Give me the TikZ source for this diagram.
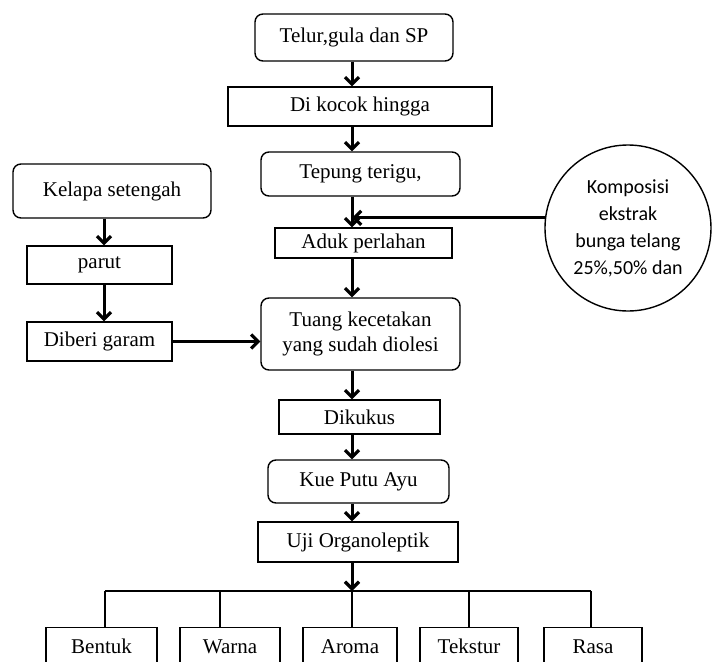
\documentclass[tikz,border=0pt]{standalone}
\usepackage{fontspec}
\setmainfont{Liberation Serif}
\newfontfamily\calibri{Carlito}
\usetikzlibrary{arrows.meta}

\tikzset{
  box/.style={draw, line width=1.4pt, inner sep=0pt, align=center,
    font=\fontsize{21}{25}\selectfont},
  rbox/.style={box, rounded corners=8pt},
  arr/.style={line width=3pt, -{Straight Barb[length=7pt,width=14pt,line width=3.2pt]}},
  branch/.style={line width=1.4pt}
}

\begin{document}
\begin{tikzpicture}[x=1pt,y=-1pt]
\useasboundingbox (0,0) rectangle (713,662);
% main column
\node[rbox, minimum width=198pt, minimum height=47pt] (telur) at (354,37.5) {Telur,gula dan SP};
\node[box, minimum width=264pt, minimum height=39pt] (kocok) at (360,106.5) {Di kocok hingga};
\node[rbox, minimum width=199pt, minimum height=44pt] (tepung) at (360.5,174) {Tepung terigu,};
\node[box, minimum width=177pt, minimum height=30pt] (aduk) at (363.5,243) {Aduk perlahan};
\node[rbox, minimum width=199pt, minimum height=72pt] (tuang) at (360.5,334) {Tuang kecetakan\\yang sudah diolesi};
\node[box, minimum width=161pt, minimum height=34pt] (dikukus) at (359.5,417) {Dikukus};
\node[rbox, minimum width=181pt, minimum height=43pt] (kue) at (358.5,481.5) {Kue Putu Ayu};
\node[box, minimum width=200pt, minimum height=40pt] (uji) at (358,542) {Uji Organoleptik};
% left column
\node[rbox, minimum width=198pt, minimum height=54pt] (kelapa) at (112,191) {Kelapa setengah};
\node[box, minimum width=145pt, minimum height=38pt] (parut) at (99.5,265) {parut};
\node[box, minimum width=145pt, minimum height=39pt] (garam) at (99.5,341.5) {Diberi garam};
% circle
\node[draw, circle, line width=1.4pt, minimum size=166pt, inner sep=0pt, align=center,
  font=\calibri\fontsize{20}{27}\selectfont] (komp) at (628,228)
  {Komposisi\\ekstrak\\bunga telang\\25\%,50\% dan};
% results
\node[box, anchor=north, minimum width=111pt, minimum height=38pt] (bentuk) at (101.5,627) {Bentuk};
\node[box, anchor=north, minimum width=100pt, minimum height=38pt] (warna) at (230,627) {Warna};
\node[box, anchor=north, minimum width=94pt, minimum height=38pt] (aroma) at (350,627) {Aroma};
\node[box, anchor=north, minimum width=98pt, minimum height=38pt] (tekstur) at (469,627) {Tekstur};
\node[box, anchor=north, minimum width=98pt, minimum height=38pt] (rasa) at (593,627) {Rasa};

\coordinate (ax) at (352,0);
\coordinate (lx) at (104,0);
\coordinate (hub) at (352,591);
\coordinate (b1) at (105,591);
\coordinate (b2) at (220,591);
\coordinate (b4) at (469,591);
\coordinate (b5) at (591,591);

\draw[arr] (telur.south -| ax) -- (kocok.north -| ax);
\draw[arr] (kocok.south -| ax) -- (tepung.north -| ax);
\draw[arr] (tepung.south -| ax) -- (aduk.north -| ax);
\draw[arr] (komp.173) -- (komp.173 -| ax);
\draw[arr] (aduk.south -| ax) -- (tuang.north -| ax);
\draw[arr] (tuang.south -| ax) -- (dikukus.north -| ax);
\draw[arr] (dikukus.south -| ax) -- (kue.north -| ax);
\draw[arr] (kue.south -| ax) -- (uji.north -| ax);
\draw[arr] (uji.south -| ax) -- (hub);

\draw[arr] (kelapa.south -| lx) -- (parut.north -| lx);
\draw[arr] (parut.south -| lx) -- (garam.north -| lx);
\draw[arr] (garam.east) -- (garam.east -| tuang.west);

\draw[branch] (b1) -- (b5);
\foreach \b/\n in {b1/bentuk,b2/warna,hub/aroma,b4/tekstur,b5/rasa}
  \draw[branch] (\b) -- (\b |- \n.north);
\end{tikzpicture}
\end{document}
